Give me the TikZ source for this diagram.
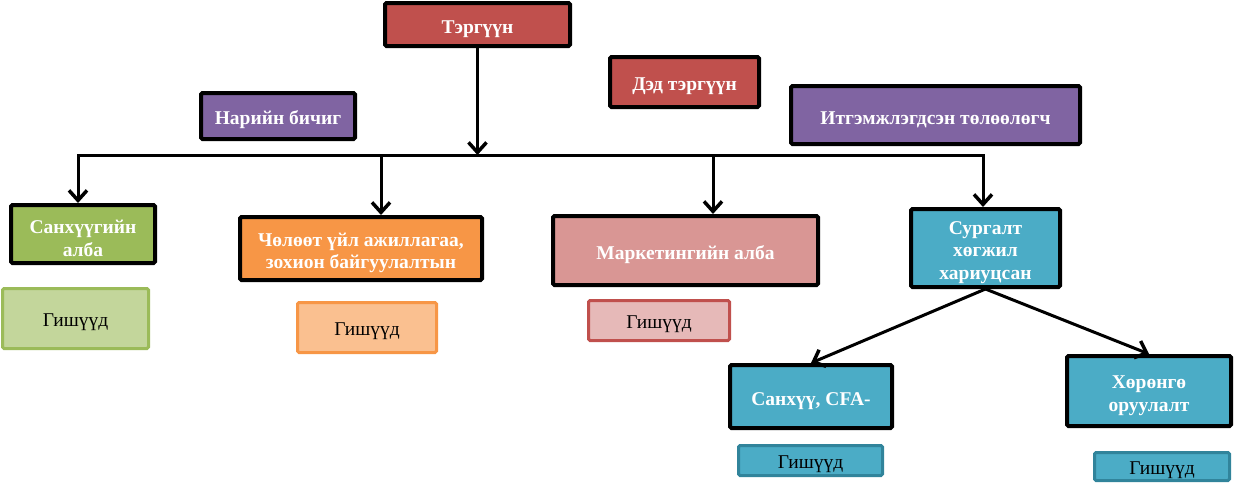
\documentclass[tikz,border=0pt]{standalone}
\usepackage{fontspec}
\setmainfont{Liberation Serif}
\usetikzlibrary{arrows.meta}
\definecolor{cRed}{HTML}{C0504D}
\definecolor{cPurple}{HTML}{8064A2}
\definecolor{cGreen}{HTML}{9BBB59}
\definecolor{cGreenL}{HTML}{C3D69B}
\definecolor{cOrange}{HTML}{F79646}
\definecolor{cOrangeL}{HTML}{FAC090}
\definecolor{cPink}{HTML}{D99694}
\definecolor{cPinkL}{HTML}{E6B9B8}
\definecolor{cTeal}{HTML}{4BACC6}
\definecolor{cTealD}{HTML}{31849B}
\newcommand\myupstrut{\rule{0pt}{22pt}}
\begin{document}
\begin{tikzpicture}[x=1pt,y=-1pt,
  boxm/.style={draw=black, line width=4pt, rounded corners=1.5pt, inner sep=0pt,
    text=white, font=\bfseries\fontsize{19.5}{22.5}\selectfont, align=center},
  box/.style={boxm, execute at begin node={\rule{0pt}{22pt}}},
  mem/.style={line width=3pt, rounded corners=1.5pt, inner sep=0pt,
    text=black, font=\fontsize{19.5}{22.5}\selectfont,
    execute at begin node={\rule{0pt}{20pt}}},
  conn/.style={line width=3pt, -{Straight Barb[length=10pt,width=18pt,line width=3.5pt]}},
  busline/.style={line width=3pt, line cap=rect}]
\useasboundingbox (0,0) rectangle (1235,483);

% top level
\node[box, fill=cRed, minimum width=185pt, minimum height=43pt] (top) at (477.5,24.5) {Тэргүүн};
\node[box, fill=cRed, minimum width=149pt, minimum height=50pt] (ded) at (684.5,82) {Дэд тэргүүн};
\node[box, fill=cPurple, minimum width=154pt, minimum height=46pt] (nar) at (278,116) {Нарийн бичиг};
\node[box, fill=cPurple, minimum width=289pt, minimum height=58pt] (itg) at (935.5,115) {Итгэмжлэгдсэн төлөөлөгч};

% departments
\node[boxm, fill=cGreen, minimum width=144pt, minimum height=58pt] (san) at (83,234) {\myupstrut Санхүүгийн\\алба};
\node[boxm, fill=cOrange, minimum width=242pt, minimum height=63pt] (chl) at (361,248.5) {\myupstrut Чөлөөт үйл ажиллагаа,\\зохион байгуулалтын};
\node[box, fill=cPink, minimum width=265pt, minimum height=69pt] (mar) at (685.5,250.5) {Маркетингийн алба};
\node[boxm, fill=cTeal, minimum width=149pt, minimum height=78pt] (sur) at (985.5,248) {\myupstrut Сургалт\\хөгжил\\хариуцсан};
\node[box, fill=cTeal, minimum width=162pt, minimum height=63pt] (cfa) at (811,396.5) {Санхүү, CFA-};
\node[boxm, fill=cTeal, minimum width=164pt, minimum height=70pt] (hor) at (1149,391) {\myupstrut Хөрөнгө\\оруулалт};

% members
\node[mem, draw=cGreen, fill=cGreenL, minimum width=146pt, minimum height=60pt] (g1) at (75.5,318.5) {Гишүүд};
\node[mem, draw=cOrange, fill=cOrangeL, minimum width=139pt, minimum height=50pt] (g2) at (367,327.5) {Гишүүд};
\node[mem, draw=cRed, fill=cPinkL, minimum width=141pt, minimum height=40pt] (g3) at (659,320.5) {Гишүүд};
\node[mem, draw=cTealD, fill=cTeal, minimum width=144pt, minimum height=30pt] (g4) at (810.5,460.5) {Гишүүд};
\node[mem, draw=cTealD, fill=cTeal, minimum width=135pt, minimum height=28pt] (g5) at (1162,466.5) {Гишүүд};

% bus and junctions
\coordinate (j1) at (78,155);
\coordinate (j2) at (381,155);
\coordinate (j3) at (713,155);
\coordinate (j4) at (983,155);
\draw[busline] (j1) -- (j4);

\draw[conn] (top.south) -- (top.south |- j1);
\draw[conn] (j1) -- (j1 |- san.north);
\draw[conn] (j2) -- (j2 |- chl.north);
\draw[conn] (j3) -- (j3 |- mar.north);
\draw[conn] (j4) -- (j4 |- sur.north);
\draw[conn] (sur.south) -- (cfa.north);
\draw[conn] (sur.south) -- (hor.north);
\end{tikzpicture}
\end{document}
